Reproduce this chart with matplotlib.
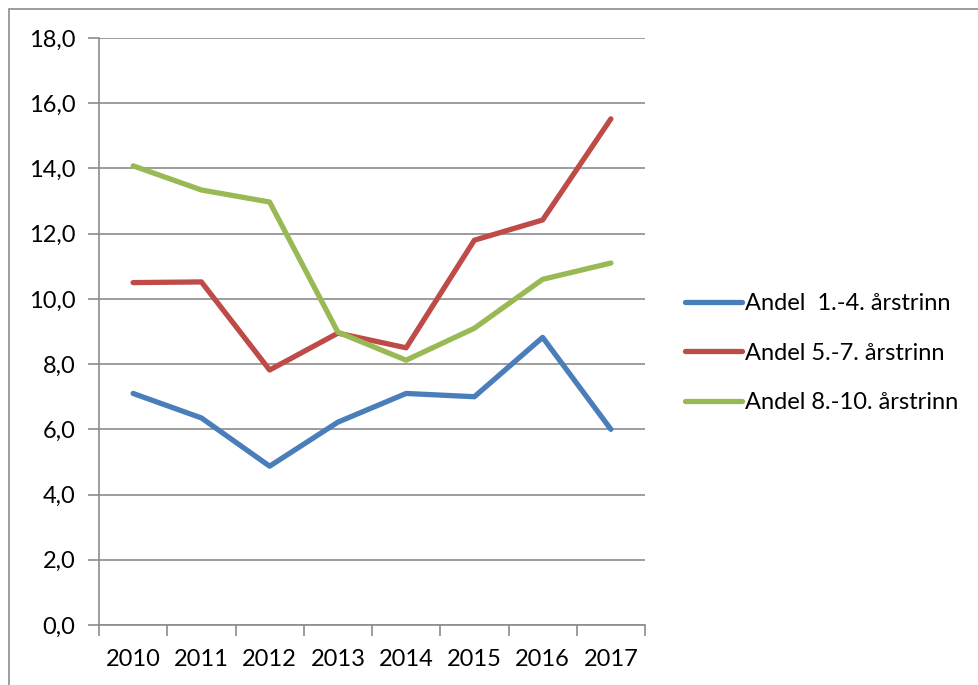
import matplotlib.pyplot as plt
from matplotlib.patches import Rectangle

# Data
years = ['2010', '2011', '2012', '2013', '2014', '2015', '2016', '2017']
andel_1_4 = [7.1, 6.35, 4.87, 6.22, 7.1, 7.0, 8.82, 6.0]
andel_5_7 = [10.5, 10.52, 7.82, 8.95, 8.5, 11.8, 12.42, 15.52]
andel_8_10 = [14.08, 13.34, 12.97, 8.98, 8.12, 9.1, 10.6, 11.1]
labels = ['Andel  1.-4. årstrinn', 'Andel 5.-7. årstrinn', 'Andel 8.-10. årstrinn']

plt.rcParams['font.family'] = ['Lato', 'DejaVu Sans']

W, H = 979, 685
fig = plt.figure(figsize=(W / 100, H / 100), dpi=100)

# outer chart frame
fig.patches.append(Rectangle((9 / W, -0.1), 1.2, 1 - 9 / H + 0.1, transform=fig.transFigure,
                             fill=False, edgecolor='#8c8c8c', linewidth=1.2))

ax = fig.add_axes([99 / W, 1 - 625 / H, (645 - 99) / W, (625 - 38) / H])

grid_col = '#8c8c8c'
x = range(len(years))
ax.plot(x, andel_1_4, color='#4a7ebb', linewidth=3.8, label=labels[0], solid_capstyle='round')
ax.plot(x, andel_5_7, color='#be4b48', linewidth=3.8, label=labels[1], solid_capstyle='round')
ax.plot(x, andel_8_10, color='#98b954', linewidth=3.8, label=labels[2], solid_capstyle='round')

ax.set_xlim(-0.5, len(years) - 0.5)
ax.set_ylim(0, 18)
ax.set_yticks([i * 2 for i in range(10)])
ax.set_yticklabels([f'{i * 2},0' for i in range(10)])
ax.yaxis.grid(True, color=grid_col, linewidth=1.2)
ax.set_axisbelow(True)

# x ticks at the category edges, labels centred
ax.set_xticks([i - 0.5 for i in range(len(years) + 1)])
ax.set_xticklabels([])
ax.set_xticks(list(x), minor=True)
ax.set_xticklabels(years, minor=True)
ax.tick_params(axis='x', which='minor', length=0, pad=17, labelsize=17)
ax.tick_params(axis='x', which='major', length=8, color=grid_col, width=1.2, direction='out')
ax.tick_params(axis='y', length=8, color=grid_col, width=1.2, labelsize=17, pad=9)

for s in ['top', 'right']:
    ax.spines[s].set_visible(False)
for s in ['left', 'bottom']:
    ax.spines[s].set_color(grid_col)
    ax.spines[s].set_linewidth(1.2)

fig.legend(loc='upper left', bbox_to_anchor=(664 / W, 1 - 272 / H), frameon=False,
           fontsize=17, handlelength=2.4, handletextpad=0.15, labelspacing=1.2)

fig.savefig('out.png', dpi=100)
